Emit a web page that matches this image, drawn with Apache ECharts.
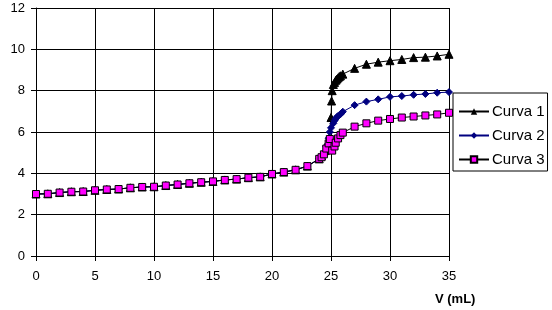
<!DOCTYPE html>
<html>
<head>
<meta charset="utf-8">
<script src="https://cdn.jsdelivr.net/npm/echarts@6/dist/echarts.min.js"></script>
<style>
html,body{margin:0;padding:0;background:#fff;}
#c{width:552px;height:310px;}
</style>
</head>
<body>
<div id="c"></div>
<script>
// Shared initial part of the titration curves (V in mL, value)
var baseV = [0,1,2,3,4,5,6,7,8,9,10,11,12,13,14,15,16,17,18,19,20,21,22,23,24];
var baseY = [3.00,3.01,3.07,3.11,3.12,3.18,3.22,3.24,3.30,3.34,3.35,3.41,3.46,3.52,3.57,3.61,3.68,3.72,3.79,3.83,3.97,4.06,4.17,4.35,4.70];

var curva1V = [24.2,24.5,24.8,25.0,25.05,25.1,25.2,25.3,25.4,25.5,25.6,25.7,25.8,26.0,27,28,29,30,31,32,33,34,35];
var curva1Y = [4.85,5.10,5.60,6.70,7.50,8.00,8.30,8.40,8.50,8.56,8.62,8.68,8.72,8.80,9.08,9.28,9.38,9.45,9.51,9.60,9.62,9.68,9.76];

var curva2V = [24.3,24.6,24.8,24.9,25.0,25.2,25.3,25.4,25.5,25.6,25.8,26.0,27,28,29,30,31,32,33,34,35];
var curva2Y = [4.90,5.30,5.70,6.00,6.20,6.42,6.55,6.65,6.72,6.78,6.86,6.98,7.30,7.47,7.58,7.70,7.74,7.80,7.84,7.90,7.93];

var curva3V = [24.2,24.4,24.6,24.8,24.9,25.1,25.3,25.4,25.6,25.8,26.0,27,28,29,30,31,32,33,34,35];
var curva3Y = [4.78,4.92,5.20,5.45,5.66,5.10,5.30,5.48,5.69,5.85,5.97,6.26,6.42,6.55,6.63,6.70,6.75,6.80,6.85,6.93];

var seriesNames = ['Curva 1','Curva 2','Curva 3'];
var xTicks = {min:0, max:35, step:5};
var yTicks = {min:0, max:12, step:2};
var xTitle = 'V (mL)';

function pairs(vx, vy){
  var out = [];
  for (var i=0;i<baseV.length;i++) out.push([baseV[i], baseY[i]]);
  for (var j=0;j<vx.length;j++) out.push([vx[j], vy[j]]);
  return out;
}

var chart = echarts.init(document.getElementById('c'), null, {renderer:'canvas'});
var txt = '#000';
chart.setOption({
  animation:false,
  backgroundColor:'#fff',
  grid:{left:36, right:103, top:8, bottom:54, containLabel:false, show:false},
  xAxis:{
    type:'value', min:xTicks.min, max:xTicks.max, interval:xTicks.step,
    axisLine:{show:true, lineStyle:{color:'#000', width:1}},
    axisTick:{show:true, length:5, lineStyle:{color:'#000'}},
    axisLabel:{color:txt, fontSize:13, fontFamily:'Liberation Sans, Arial', margin:14},
    splitLine:{show:true, lineStyle:{color:'#000', width:1}}
  },
  yAxis:{
    type:'value', min:yTicks.min, max:yTicks.max, interval:yTicks.step,
    axisLine:{show:true, lineStyle:{color:'#000', width:1}},
    axisTick:{show:true, length:5, lineStyle:{color:'#000'}},
    axisLabel:{color:txt, fontSize:13, fontFamily:'Liberation Sans, Arial', margin:11},
    splitLine:{show:true, lineStyle:{color:'#000', width:1}}
  },
  legend:{
    orient:'vertical', left:453, top:93,
    padding:[11,3,4,5], itemGap:9,
    borderColor:'#000', borderWidth:1,
    itemWidth:30, itemHeight:8,
    textStyle:{color:txt, fontSize:15, fontFamily:'Liberation Sans, Arial', padding:[0,0,0,-2]},
    data:seriesNames
  },
  graphic:[{
    type:'text', left:435, top:293,
    style:{text:xTitle, font:'bold 13px "Liberation Sans", Arial', fill:txt}
  }],
  series:[
    {name:seriesNames[0], type:'line', data:pairs(curva1V,curva1Y),
     symbol:'triangle', symbolSize:8,
     lineStyle:{color:'#000', width:1},
     itemStyle:{color:'#000', borderColor:'#000'}},
    {name:seriesNames[1], type:'line', data:pairs(curva2V,curva2Y),
     symbol:'diamond', symbolSize:7,
     lineStyle:{color:'#000080', width:1},
     itemStyle:{color:'#000080', borderColor:'#000080'}},
    {name:seriesNames[2], type:'line', data:pairs(curva3V,curva3Y),
     symbol:'rect', symbolSize:7,
     lineStyle:{color:'#000', width:1},
     itemStyle:{color:'#ff00ff', borderColor:'#000', borderWidth:1}}
  ]
});
</script>
</body>
</html>
